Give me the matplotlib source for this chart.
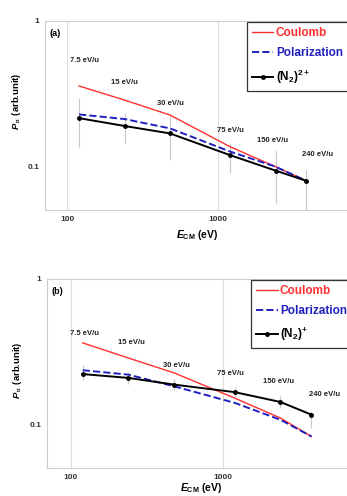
import matplotlib
matplotlib.use('Agg')
import matplotlib.pyplot as plt
import numpy as np

plt.rcParams['font.family'] = ['Liberation Sans', 'DejaVu Sans']
plt.rcParams['font.weight'] = 'bold'
plt.rcParams['axes.labelweight'] = 'bold'
plt.rcParams['mathtext.fontset'] = 'custom'
plt.rcParams['mathtext.rm'] = 'Liberation Sans:bold'
plt.rcParams['mathtext.it'] = 'Liberation Sans:italic:bold'
plt.rcParams['mathtext.bf'] = 'Liberation Sans:bold'
plt.rcParams['mathtext.fallback'] = 'stixsans'

# E_CM (eV) = 16 x E (eV/u)
e_cm = [120, 240, 480, 1200, 2400, 3840]
e_labels = ['7.5 eV/u', '15 eV/u', '30 eV/u', '75 eV/u', '150 eV/u', '240 eV/u']

# panel (a): (N2)2+
coul_a = [0.357, 0.286, 0.226, 0.137, 0.100, 0.080]
pol_a = [0.228, 0.212, 0.183, 0.127, 0.100, 0.080]
exp_a = [0.215, 0.190, 0.169, 0.120, 0.094, 0.080]
exp_a_lo = [0.137, 0.145, 0.111, 0.090, 0.056, 0.050]
exp_a_hi = [0.294, 0.232, 0.226, 0.145, 0.130, 0.095]
lab_a_x = [131, 238, 481, 1200, 2300, 4570]
lab_a_y = [0.53, 0.38, 0.27, 0.178, 0.151, 0.122]

# panel (b): (N2)+
coul_b = [0.363, 0.286, 0.226, 0.152, 0.111, 0.083]
pol_b = [0.236, 0.220, 0.183, 0.141, 0.108, 0.083]
exp_b = [0.222, 0.209, 0.188, 0.167, 0.143, 0.117]
exp_b_lo = [0.203, 0.190, 0.172, 0.155, 0.130, 0.095]
exp_b_hi = [0.258, 0.228, 0.205, 0.180, 0.157, 0.125]
lab_b_x = [124, 250, 499, 1121, 2330, 4680]
lab_b_y = [0.42, 0.363, 0.255, 0.225, 0.198, 0.161]

fig = plt.figure(figsize=(3.47, 4.96), dpi=100)
ax_a = fig.add_axes([0.1297, 0.5766, 0.934, 0.3817])
ax_b = fig.add_axes([0.1346, 0.0565, 0.945, 0.3817])

panels = [
    (ax_a, '(a)', coul_a, pol_a, exp_a, exp_a_lo, exp_a_hi, lab_a_x, lab_a_y,
     r'(N$_2$)$^{2+}$', 71.4, -0.095, 0.577),
    (ax_b, '(b)', coul_b, pol_b, exp_b, exp_b_lo, exp_b_hi, lab_b_x, lab_b_y,
     r'(N$_2$)$^{+}$', 69.5, -0.07, 0.518),
]

for ax, tag, coul, pol, exp, lo, hi, lx, ly, exp_name, xmin, xl_y, yl_y in panels:
    ax.set_xscale('log')
    ax.set_yscale('log')
    ax.set_xlim(xmin, 10000)
    ax.set_ylim(0.0505, 1)

    exp = np.array(exp)
    yerr = [exp - np.array(lo), np.array(hi) - exp]
    ax.errorbar(e_cm, exp, yerr=yerr, fmt='none', ecolor='#c8c8c8',
                elinewidth=0.8, capsize=0, zorder=2)
    ax.plot(e_cm, coul, '-', color='#ff3030', lw=1.0, label='Coulomb', zorder=3)
    ax.plot(e_cm, pol, '--', color='#2020c0', lw=1.4, label='Polarization', zorder=4)
    ax.plot(e_cm, exp, '-o', color='black', lw=1.4, ms=2.5, label=exp_name, zorder=5)

    for x, y, s in zip(lx, ly, e_labels):
        ax.text(x, y, s, fontsize=5.5, ha='center', va='center', color='#222222')

    ax.text(0.015, 0.93, tag, transform=ax.transAxes, fontsize=6.5, ha='left', va='center')

    ax.set_xticks([100, 1000])
    ax.set_xticklabels(['100', '1000'])
    ax.set_yticks([0.1, 1])
    ax.set_yticklabels(['0.1', '1'])
    ax.minorticks_off()
    ax.tick_params(labelsize=6, length=0, pad=4, colors='#333333')
    ax.grid(True, which='major', axis='x', color='#dddddd', lw=0.8)
    for sp in ax.spines.values():
        sp.set_color('#cccccc')
        sp.set_linewidth(0.8)

    ax.set_xlabel(r'$\mathit{E}_{\mathrm{CM}}$ (eV)', fontsize=7.5)
    ax.set_ylabel(r'$\mathit{P}_{\perp}$ (arb.unit)', fontsize=6.8)
    ax.xaxis.set_label_coords(0.47, xl_y)
    ax.yaxis.set_label_coords(-0.068, yl_y)

    leg = ax.legend(loc='upper left', bbox_to_anchor=(0.623, 0.995), fontsize=8.5,
                    frameon=True, fancybox=False, edgecolor='black',
                    handlelength=1.8, handletextpad=0.2, borderpad=0.45,
                    labelspacing=0.7, borderaxespad=0)
    leg.get_frame().set_linewidth(0.9)
    for txt, c in zip(leg.get_texts(), ['#ff3030', '#2020c0', 'black']):
        txt.set_color(c)

fig.savefig('out.png', dpi=100)
